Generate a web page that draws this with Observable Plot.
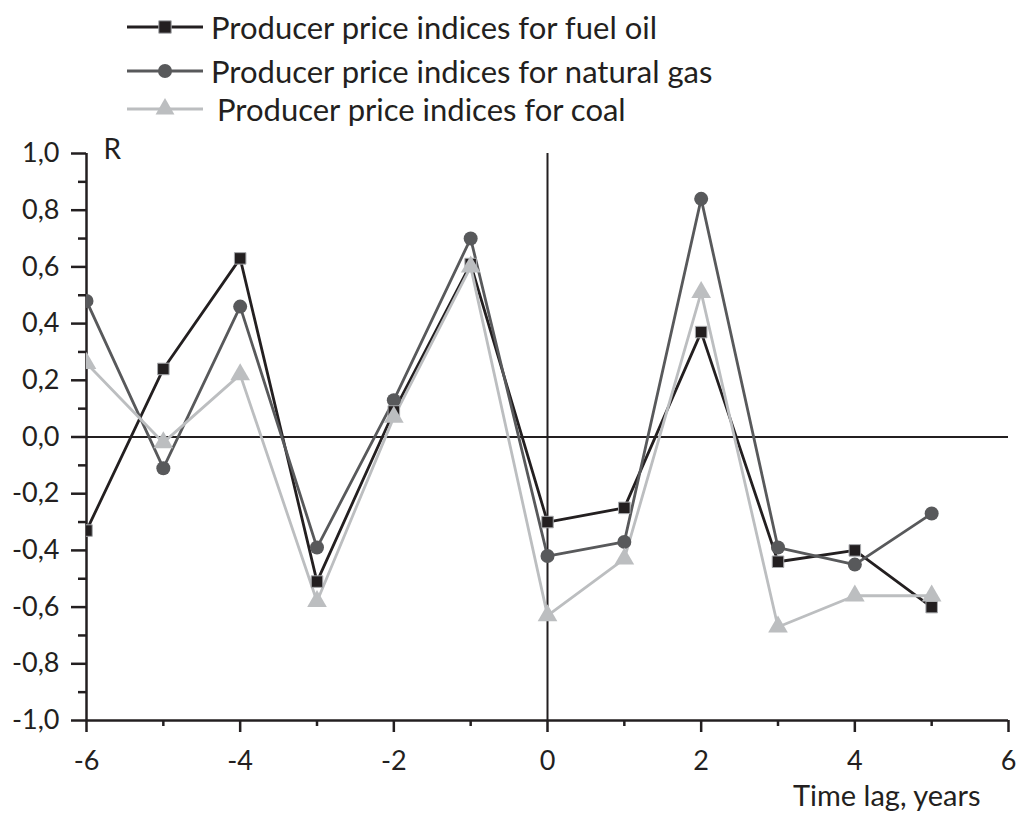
<!DOCTYPE html>
<html>
<head>
<meta charset="utf-8">
<script src="https://cdn.jsdelivr.net/npm/d3@7"></script>
<script src="https://cdn.jsdelivr.net/npm/@observablehq/plot@0.6"></script>
<style>
  html, body { margin: 0; padding: 0; background: #fff; }
  body { width: 1020px; height: 814px; overflow: hidden; font-family: Lato, sans-serif; color: #231f20; }
  #legend { position: relative; height: 130px; width: 1020px; }
  .row { position: absolute; left: 125px; height: 40px; display: flex; align-items: center; }
  .row svg { display: block; }
  .row span { font-size: 31px; margin-left: 6px; white-space: nowrap; }
  #chart svg { display: block; }
</style>
</head>
<body>
<div id="legend"></div>
<div id="chart"></div>
<script>
// ---- data ----
const lags = [-6, -5, -4, -3, -2, -1, 0, 1, 2, 3, 4, 5];
const fuelOil    = [-0.33, 0.24, 0.63, -0.51, 0.09, 0.61, -0.30, -0.25, 0.37, -0.44, -0.40, -0.60];
const naturalGas = [0.48, -0.11, 0.46, -0.39, 0.13, 0.70, -0.42, -0.37, 0.84, -0.39, -0.45, -0.27];
const coal       = [0.26, -0.02, 0.22, -0.58, 0.07, 0.60, -0.63, -0.43, 0.51, -0.67, -0.56, -0.56];

const seriesNames = [
  "Producer price indices for fuel oil",
  "Producer price indices for natural gas",
  "Producer price indices for coal"
];
const xTicks = [-6, -4, -2, 0, 2, 4, 6];
const xMinorTicks = [-5, -3, -1, 1, 3, 5];
const yTicks = [-1, -0.8, -0.6, -0.4, -0.2, 0, 0.2, 0.4, 0.6, 0.8, 1];
const yMinorTicks = [-0.9, -0.7, -0.5, -0.3, -0.1, 0.1, 0.3, 0.5, 0.7, 0.9];
const yLabel = "R";
const xLabel = "Time lag, years";

// ---- styles ----
const colors = ["#231f20", "#58595b", "#bcbec0"];
const symbols = ["square", "circle", "triangle"];
const values = [fuelOil, naturalGas, coal];
const ink = "#231f20";

const rows = [];
values.forEach((vals, s) => {
  lags.forEach((lag, i) => rows.push({series: seriesNames[s], idx: s, lag, r: vals[i]}));
});

// ---- legend (HTML) ----
const legend = document.getElementById("legend");
const rowCenters = [27, 71, 109];
const textShift = [0, 0, 6];
seriesNames.forEach((name, s) => {
  const row = document.createElement("div");
  row.className = "row";
  row.style.top = (rowCenters[s] - 20) + "px";
  const svg = d3.create("svg").attr("width", 80).attr("height", 40);
  svg.append("line").attr("x1", 2).attr("x2", 78).attr("y1", 20).attr("y2", 20)
    .attr("stroke", colors[s]).attr("stroke-width", 2.8);
  const sym = s === 0 ? d3.symbolSquare : s === 1 ? d3.symbolCircle : d3.symbolTriangle;
  svg.append("path").attr("d", d3.symbol(sym, Math.PI * 7 * 7)())
    .attr("transform", "translate(40,20)")
    .attr("fill", colors[s])
    .attr("stroke", s === 0 ? "#a7a9ac" : "none").attr("stroke-width", 1);
  row.appendChild(svg.node());
  const span = document.createElement("span");
  span.textContent = name;
  span.style.marginLeft = (6 + textShift[s]) + "px";
  row.appendChild(span);
  legend.appendChild(row);
});

// ---- chart ----
const fmt = d => d.toFixed(1).replace(".", ",");
const plot = Plot.plot({
  width: 1020,
  height: 684,
  marginTop: 23,
  marginLeft: 86,
  marginRight: 12,
  marginBottom: 94,
  x: {domain: [-6, 6]},
  y: {domain: [-1, 1]},
  color: {domain: seriesNames, range: colors},
  symbol: {domain: seriesNames, range: symbols},
  style: {fontFamily: "Lato, sans-serif", fontSize: "27px", color: ink, background: "#fff"},
  marks: [
    Plot.ruleY([0], {stroke: ink, strokeWidth: 2}),
    Plot.ruleX([0], {stroke: ink, strokeWidth: 2}),
    Plot.ruleX([-6], {stroke: ink, strokeWidth: 2.5}),
    Plot.ruleY([-1], {stroke: ink, strokeWidth: 2.5}),
    Plot.axisY(yTicks, {label: null, tickSize: 15, tickPadding: 12, tickFormat: fmt, strokeWidth: 2.5, stroke: ink, fill: ink}),
    Plot.axisY(yMinorTicks, {label: null, tickSize: 8, tickFormat: () => "", strokeWidth: 2.5, stroke: ink}),
    Plot.axisX(xTicks, {label: null, tickSize: 12, tickPadding: 18, tickFormat: d => String(d), strokeWidth: 2.5, stroke: ink, fill: ink}),
    Plot.axisX(xMinorTicks, {label: null, tickSize: 6, tickFormat: () => "", strokeWidth: 2.5, stroke: ink}),
    Plot.line(rows, {x: "lag", y: "r", z: "series", stroke: "series", strokeWidth: 2.8, clip: true}),
    Plot.dot(rows.filter(d => d.idx === 1), {x: "lag", y: "r", symbol: "series", fill: "series", r: 7, clip: true}),
    Plot.dot(rows.filter(d => d.idx === 0), {x: "lag", y: "r", symbol: "series", fill: "series", stroke: "#a7a9ac", strokeWidth: 1, r: 6.5, clip: true}),
    Plot.dot(rows.filter(d => d.idx === 2), {x: "lag", y: "r", symbol: "series", fill: "series", r: 7.3, clip: true}),
    Plot.text([yLabel], {text: d => d, frameAnchor: "top-left", dx: 17, dy: -3, textAnchor: "start", lineAnchor: "middle", fill: ink, fontSize: 28}),
    Plot.text([xLabel], {text: d => d, frameAnchor: "bottom-right", dx: -28, dy: 76, textAnchor: "end", lineAnchor: "middle", fill: ink, fontSize: 29})
  ]
});
document.getElementById("chart").appendChild(plot);
</script>
</body>
</html>
